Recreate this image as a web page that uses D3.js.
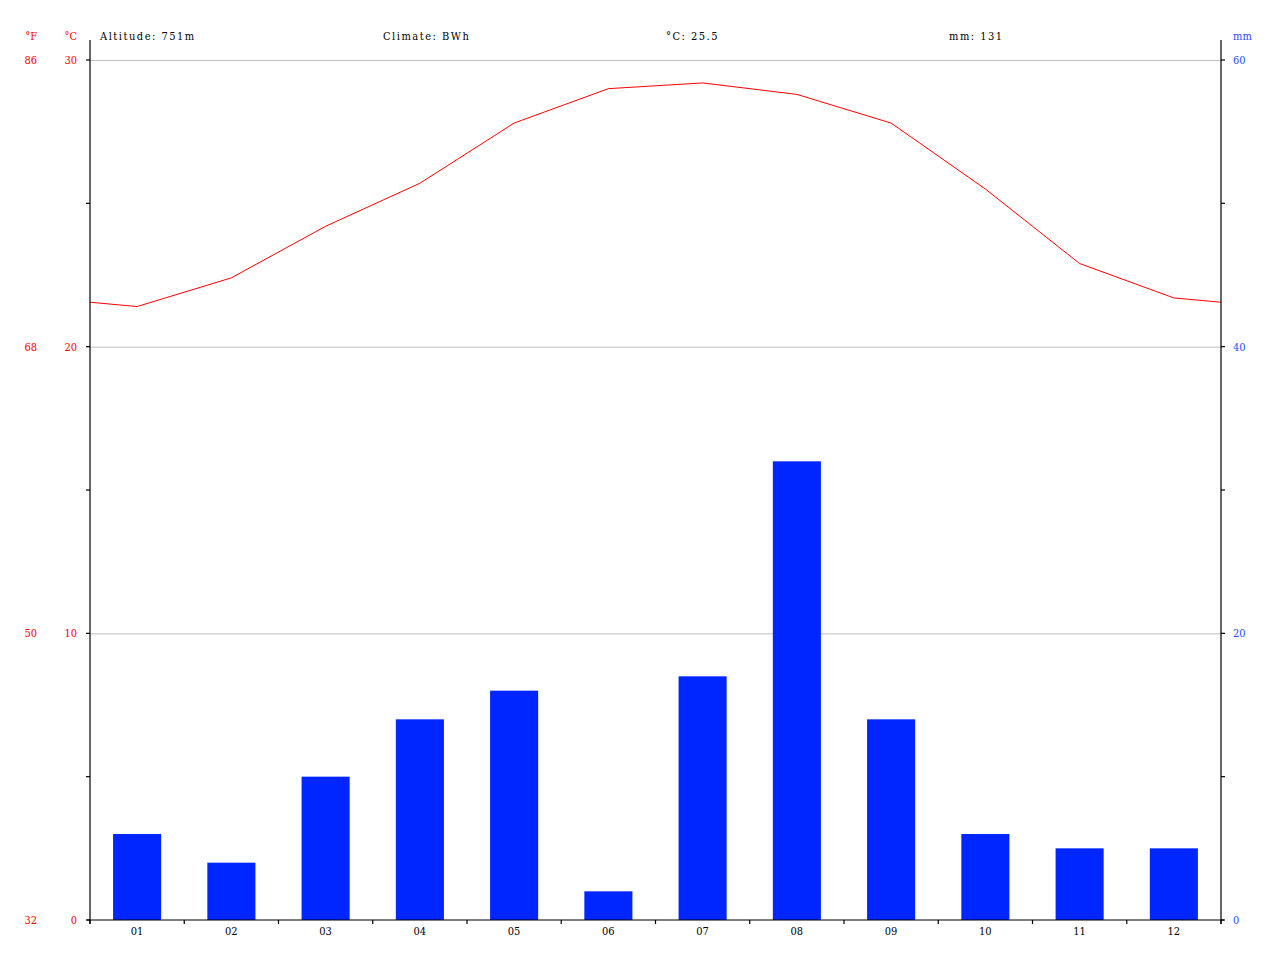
<!DOCTYPE html>
<html><head><meta charset="utf-8">
<script src="https://cdn.jsdelivr.net/npm/d3@7"></script>
<style>body{margin:0;background:#fff}svg text{font-family:"DejaVu Serif Condensed","DejaVu Serif",serif;font-stretch:condensed;font-size:11px}
.hdr{letter-spacing:1.5px}</style>
</head><body><svg id="c" width="1280" height="960"></svg>
<script>
const months = ["01","02","03","04","05","06","07","08","09","10","11","12"];
const tempC = [21.4,22.4,24.2,25.7,27.8,29.0,29.2,28.8,27.8,25.5,22.9,21.7];
const precip = [6,4,10,14,16,2,17,32,14,6,5,5];
const headerTexts = ["Altitude: 751m","Climate: BWh","°C: 25.5","mm: 131"];
const cTicks = [0,10,20,30];
const fTicks = ["32","50","68","86"];
const mmTicks = [0,20,40,60];

const svg = d3.select("#c");
const L=90, R=1221, T=60, B=920;
const x = d3.scaleBand().domain(months).range([L,R]);
const xi = d3.scaleLinear().domain([0,12]).range([L,R]);
const yT = d3.scaleLinear().domain([0,30]).range([B,T]);
const yP = d3.scaleLinear().domain([0,60]).range([B,T]);

// grid
svg.append("g").selectAll("line").data(cTicks.filter(d=>d>0)).join("line")
  .attr("x1",L).attr("x2",R).attr("y1",d=>yT(d)+0.5).attr("y2",d=>yT(d)+0.5)
  .attr("stroke","#c0c0c0").attr("stroke-width",1);

// bars
svg.append("g").selectAll("rect").data(precip).join("rect")
  .attr("x",(d,i)=>x(months[i])+x.bandwidth()*0.245)
  .attr("width",x.bandwidth()*0.51)
  .attr("y",d=>yP(d)).attr("height",d=>B-yP(d))
  .attr("fill","#0026ff");

// temp line (wraps around Dec/Jan, clipped)
svg.append("clipPath").attr("id","clip").append("rect").attr("x",L).attr("y",0).attr("width",R-L).attr("height",960);
const pts = [[-0.5,tempC[11]]].concat(tempC.map((d,i)=>[i+0.5,d])).concat([[12.5,tempC[0]]]);
svg.append("path").attr("clip-path","url(#clip)")
  .attr("d",d3.line().x(d=>xi(d[0])).y(d=>yT(d[1]))(pts))
  .attr("fill","none").attr("stroke","#ff0000").attr("stroke-width",1);

// axes lines
const ax = svg.append("g").attr("stroke","#000").attr("stroke-width",1.2);
ax.append("line").attr("x1",L).attr("x2",L).attr("y1",40).attr("y2",B+4);
ax.append("line").attr("x1",R).attr("x2",R).attr("y1",40).attr("y2",B+4);
ax.append("line").attr("x1",L-3).attr("x2",R+3).attr("y1",B).attr("y2",B);
[0,5,10,15,20,25,30].forEach(v=>{
  ax.append("line").attr("x1",L-4).attr("x2",L).attr("y1",yT(v)).attr("y2",yT(v));
});
[0,10,20,30,40,50,60].forEach(v=>{
  ax.append("line").attr("x1",R).attr("x2",R+4).attr("y1",yP(v)).attr("y2",yP(v));
});
d3.range(13).forEach(i=>{
  ax.append("line").attr("x1",xi(i)).attr("x2",xi(i)).attr("y1",B).attr("y2",B+4);
});

// labels
svg.append("g").selectAll("text").data(cTicks).join("text")
  .attr("x",77).attr("y",d=>yT(d)+4).attr("text-anchor","end").attr("fill","#ff0000").text(d=>d);
svg.append("g").selectAll("text").data(fTicks).join("text")
  .attr("x",37).attr("y",(d,i)=>yT(cTicks[i])+4).attr("text-anchor","end").attr("fill","#ff0000").text(d=>d);
svg.append("g").selectAll("text").data(mmTicks).join("text")
  .attr("x",1233).attr("y",d=>yP(d)+4).attr("fill","#2a4cff").text(d=>d);
svg.append("text").attr("x",37).attr("y",40).attr("text-anchor","end").attr("fill","#ff0000").text("°F");
svg.append("text").attr("x",77).attr("y",40).attr("text-anchor","end").attr("fill","#ff0000").text("°C");
svg.append("text").attr("x",1233).attr("y",40).attr("fill","#2a4cff").text("mm");
svg.append("g").selectAll("text").data(months).join("text")
  .attr("x",d=>x(d)+x.bandwidth()/2).attr("y",935).attr("text-anchor","middle").attr("fill","#000").text(d=>d);
svg.append("g").selectAll("text").data(headerTexts).join("text").attr("class","hdr")
  .attr("x",(d,i)=>100+i*283).attr("y",40).attr("fill","#000").text(d=>d);
</script></body></html>
